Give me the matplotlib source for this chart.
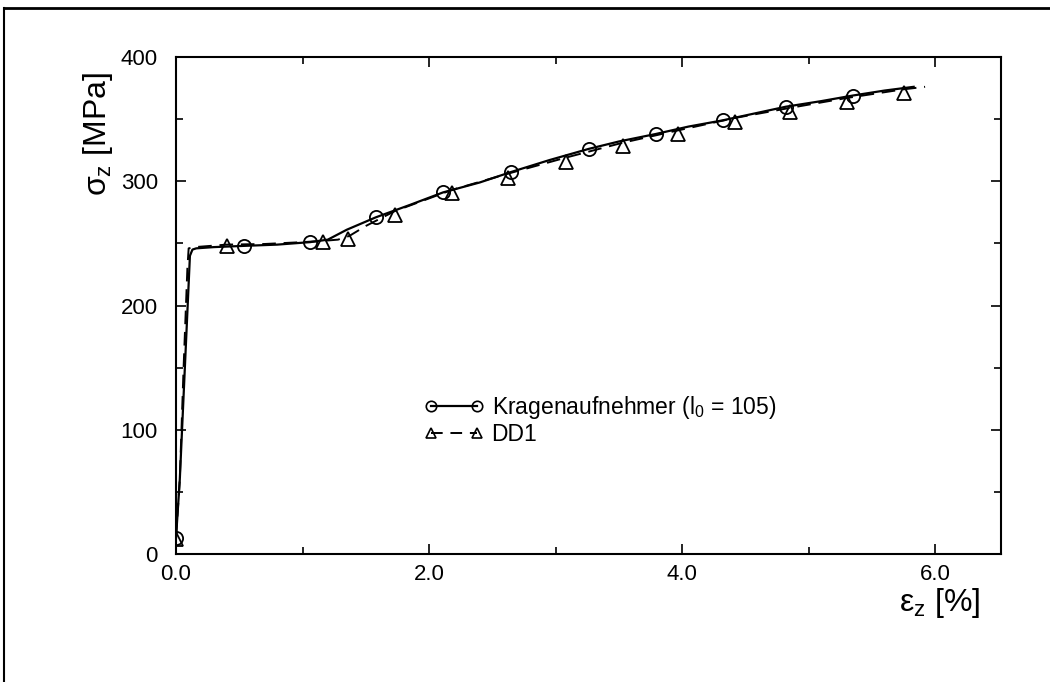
import matplotlib
matplotlib.use("Agg")
import matplotlib.pyplot as plt
from matplotlib.lines import Line2D

plt.rcParams['font.family'] = ['Liberation Sans', 'DejaVu Sans']
plt.rcParams['mathtext.fontset'] = 'custom'
plt.rcParams['mathtext.rm'] = 'Liberation Sans'
plt.rcParams['mathtext.it'] = 'Liberation Sans'
plt.rcParams['mathtext.bf'] = 'Liberation Sans:bold'

# Kragenaufnehmer (solid line)
kr_eps = [0.0, 0.03, 0.07, 0.11, 0.13, 0.16, 0.3, 0.54, 0.8, 1.06, 1.2, 1.35, 1.58, 1.85,
          2.11, 2.4, 2.65, 2.95, 3.26, 3.5, 3.79, 4.05, 4.32, 4.57, 4.82, 5.1, 5.35, 5.6, 5.83]
kr_sig = [13, 60, 150, 240, 245, 246, 247, 248, 249, 251, 253, 261, 271, 281,
          291, 299, 307.5, 317, 326, 332, 338, 344, 349, 354.5, 360, 364.5, 369, 373, 376]
kr_mark_eps = [0.0, 0.54, 1.06, 1.58, 2.11, 2.65, 3.26, 3.79, 4.32, 4.82, 5.35]
kr_mark_sig = [13, 248, 251, 271, 291, 307.5, 326, 338, 349, 360, 369]

# DD1 (dashed line)
dd_eps = [0.0, 0.03, 0.06, 0.09, 0.10, 0.15, 0.4, 0.7, 1.0, 1.16, 1.28, 1.37, 1.5, 1.73,
          2.18, 2.62, 3.08, 3.53, 3.97, 4.42, 4.85, 5.30, 5.75, 5.92]
dd_sig = [13, 60, 150, 230, 246, 247, 249, 249.5, 251, 252, 253, 256, 264, 276,
          293, 306, 319, 331, 341, 351, 359, 367, 374, 376]
dd_mark_eps = [0.0, 0.40, 1.16, 1.36, 1.73, 2.18, 2.62, 3.08, 3.53, 3.97, 4.42, 4.85, 5.30, 5.75]
dd_mark_sig = [12, 248, 251, 253.5, 273, 290.5, 303, 315.5, 328, 338, 348, 356, 364, 371]

x_major = [0, 2, 4, 6]
x_labels = ['0.0', '2.0', '4.0', '6.0']
x_minor = [1, 3, 5]
y_major = [0, 100, 200, 300, 400]
y_labels = ['0', '100', '200', '300', '400']
y_minor = [50, 150, 250, 350]

fig = plt.figure(figsize=(10.5, 6.82), dpi=100)
ax = fig.add_axes([176/1050, 1-554/682, (1001-176)/1050, (554-57)/682])

ax.plot(kr_eps, kr_sig, '-', color='black', lw=1.6)
ax.plot(kr_mark_eps, kr_mark_sig, 'o', ms=9.5, mfc='none', mec='black', mew=1.3)
ax.plot(dd_eps, dd_sig, '--', color='black', lw=1.4, dashes=(7, 4))
ax.plot(dd_mark_eps, dd_mark_sig, '^', ms=10, mfc='none', mec='black', mew=1.3)

ax.set_xlim(0, 6.52)
ax.set_ylim(0, 400)
ax.set_xticks(x_major)
ax.set_xticklabels(x_labels)
ax.set_xticks(x_minor, minor=True)
ax.set_yticks(y_major)
ax.set_yticklabels(y_labels)
ax.set_yticks(y_minor, minor=True)
ax.tick_params(which='both', direction='in', top=True, right=True, labelsize=16, width=1.2)
ax.tick_params(which='major', length=7)
ax.tick_params(which='minor', length=5)
ax.tick_params(axis='x', pad=7)
ax.tick_params(axis='y', pad=13)
for s in ax.spines.values():
    s.set_linewidth(1.5)

fig.text(98/1050, 1-134/682, r'$\sigma_z$ [MPa]', rotation=90, fontsize=23,
         ha='center', va='center')
fig.text(940/1050, 1-603/682, r'$\varepsilon_z$ [%]', fontsize=23,
         ha='center', va='center')

handles = [Line2D([], [], ls='-', color='black', lw=1.6, marker='o', ms=7.5,
                  mfc='none', mec='black', mew=1.2),
           Line2D([], [], ls='--', color='black', lw=1.4, dashes=(6, 4), marker='^', ms=7.5,
                  mfc='none', mec='black', mew=1.2)]
ax.legend(handles, [r'Kragenaufnehmer (l$_0$ = 105)', 'DD1'], loc='center left',
          bbox_to_anchor=((424-176)/825, (554-420)/497), frameon=False, fontsize=16.5,
          numpoints=2, handlelength=2.6, handletextpad=0.35, borderpad=0, borderaxespad=0,
          labelspacing=0.05)

# scanned page frame
fig.add_artist(Line2D([4/1050, 4/1050], [0, 1-8/682], color='black', lw=1.5,
                      transform=fig.transFigure))
fig.add_artist(Line2D([4/1050, 1], [1-8/682, 1-8/682], color='black', lw=2.0,
                      transform=fig.transFigure))

fig.savefig('out.png', dpi=100)
